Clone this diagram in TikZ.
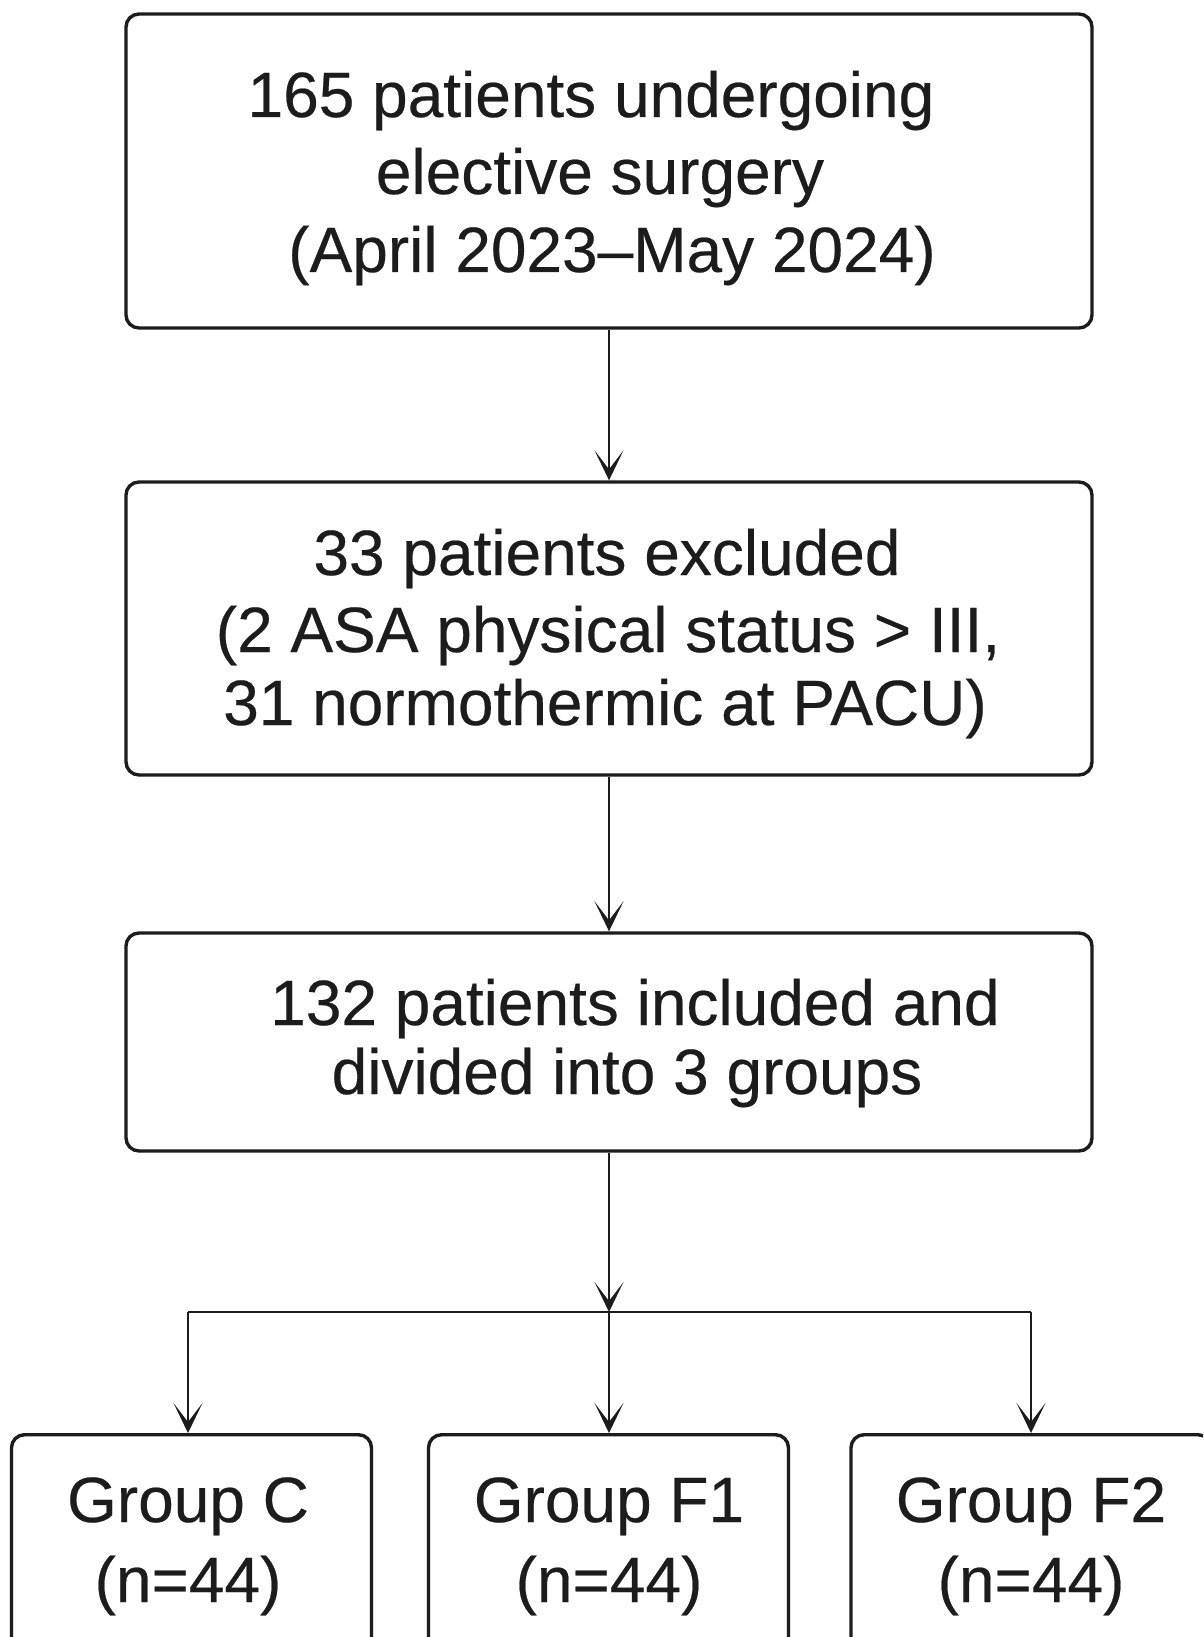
\documentclass[tikz,border=0pt]{standalone}
\usepackage{fontspec}
\setmainfont{Liberation Sans}
\newfontfamily\labelfont[FakeBold=0.35]{Liberation Sans}
\usetikzlibrary{arrows.meta}
\definecolor{ink}{HTML}{1C1C1C}
\begin{document}
\begin{tikzpicture}[x=1pt,y=-1pt,
  box/.style={draw=ink, line width=3.4pt, rounded corners=13pt, fill=white,
              inner sep=0pt, minimum width=966pt},
  gbox/.style={draw=ink, line width=3.4pt, rounded corners=13pt, fill=white,
               inner sep=0pt, minimum width=360pt, minimum height=260pt, anchor=north},
  txt/.style={anchor=base, inner sep=0pt, text=ink, font=\labelfont\fontsize{64}{76}\selectfont},
  link/.style={draw=ink, line width=2.8pt, -{Stealth[length=30pt,width=29pt,inset=19pt]}},
  wire/.style={draw=ink, line width=2.8pt}
]
\clip (0,0) rectangle (1203,1637);
\useasboundingbox (0,0) rectangle (1203,1637);
\fill[white] (0,0) rectangle (1203,1637);

% main boxes
\node[box, minimum height=314pt] (b1) at (609,171) {};
\node[box, minimum height=293pt] (b2) at (609,628.5) {};
\node[box, minimum height=218pt] (b3) at (609,1042) {};

% group boxes
\node[gbox] (g1) at (191.5,1433) {};
\node[gbox] (g2) at (608.5,1433) {};
\node[gbox] (g3) at (1031,1433) {};

% texts
\node[txt] (t1a) at (591,117) {165 patients undergoing};
\node[txt] (t1b) at (600,194) {elective surgery};
\node[txt] (t1c) at (612,272) {(April 2023–May 2024)};

\node[txt] (t2a) at (607,575) {33 patients excluded};
\node[txt] (t2b) at (608,652) {(2 ASA physical status > III,};
\node[txt] (t2c) at (605,725) {31 normothermic at PACU)};

\node[txt] (t3a) at (635,1025) {132 patients included and};
\node[txt] (t3b) at (627,1094) {divided into 3 groups};

\node[txt] (g1a) at (188,1522) {Group C};
\node[txt] (g1b) at (188,1602) {(n=44)};
\node[txt] (g2a) at (609,1522) {Group F1};
\node[txt] (g2b) at (609,1602) {(n=44)};
\node[txt] (g3a) at (1031,1522) {Group F2};
\node[txt] (g3b) at (1031,1602) {(n=44)};

% connectors
\coordinate (jm) at (609,1312);
\coordinate (jl) at (188,1312);
\coordinate (jr) at (1031,1312);

\draw[link] (b1.south) -- (b2.north);
\draw[link] (b2.south) -- (b3.north);
\draw[link] (b3.south) -- (jm);
\draw[wire] (jl) -- (jr);
\draw[link] (jl) -- (jl |- g1.north);
\draw[link] (jm) -- (jm |- g2.north);
\draw[link] (jr) -- (jr |- g3.north);
\end{tikzpicture}
\end{document}
